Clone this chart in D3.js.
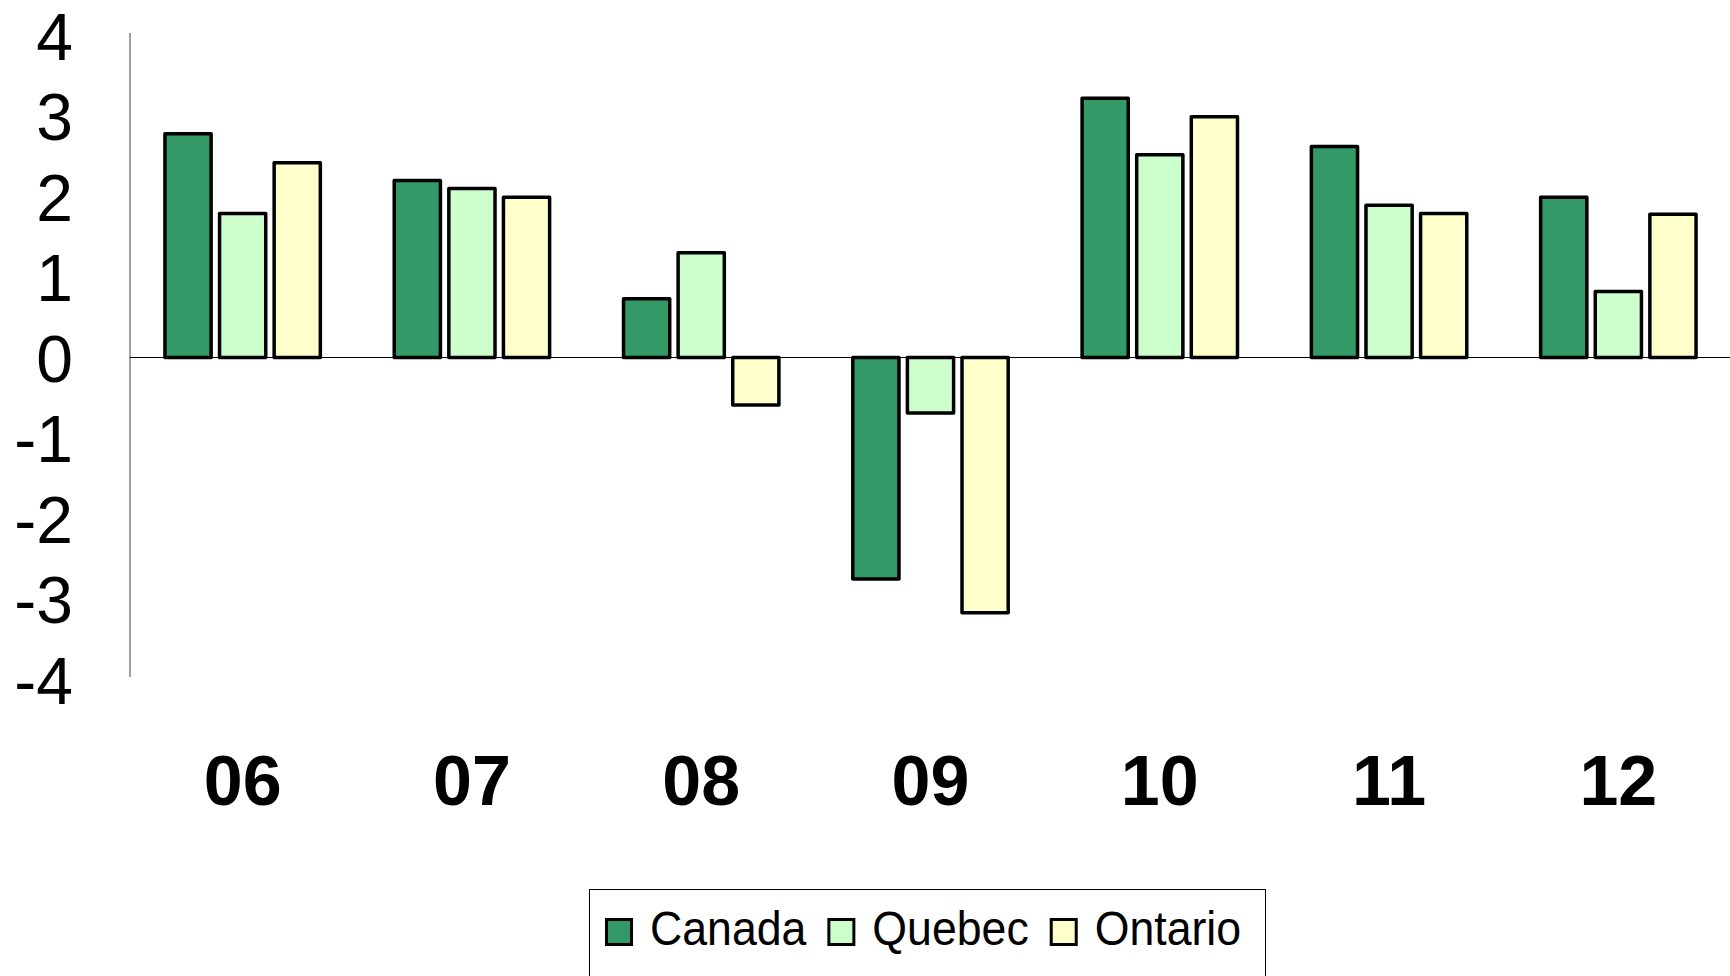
<!DOCTYPE html>
<html>
<head>
<meta charset="utf-8">
<script src="https://cdn.jsdelivr.net/npm/d3@7"></script>
<style>
  html, body { margin: 0; padding: 0; background: #fff; overflow: hidden; }
  svg { display: block; font-family: "Liberation Sans", Arial, sans-serif; }
</style>
</head>
<body>
<svg id="chart" width="1730" height="976"></svg>
<script>
// ---- data ----
const categories = ["06", "07", "08", "09", "10", "11", "12"];
const seriesNames = ["Canada", "Quebec", "Ontario"];
const canada  = [2.78, 2.20, 0.73, -2.75, 3.22, 2.62, 1.99];
const quebec  = [1.79, 2.10, 1.30, -0.69, 2.52, 1.89, 0.82];
const ontario = [2.42, 1.99, -0.59, -3.17, 2.99, 1.79, 1.78];
const yTicks = [4, 3, 2, 1, 0, -1, -2, -3, -4];
const colors = ["#339966", "#CCFFCC", "#FFFFCC"];

const seriesValues = [canada, quebec, ontario];
const rows = categories.map((c, i) => ({
  cat: c,
  vals: seriesNames.map((s, j) => ({ series: s, value: seriesValues[j][i], color: colors[j] }))
}));

// ---- layout ----
const svg = d3.select("#chart");
const plotLeft = 130, plotRight = 1735;

const x = d3.scaleBand().domain(categories).range([plotLeft - 2, plotRight - 2])
  .paddingInner(0.307).paddingOuter(0.1535);
const xSub = d3.scaleBand().domain(seriesNames).range([0, x.bandwidth()]).paddingInner(0.09);
const y = d3.scaleLinear().domain([-4, 4]).range([679.5, 35.5]);

// y axis
const yAxis = d3.axisLeft(y).tickValues(yTicks).tickSize(0).tickPadding(57)
  .tickFormat(d => String(d));
const gy = svg.append("g").attr("transform", `translate(${plotLeft},0)`).call(yAxis);
gy.select(".domain").remove();
gy.selectAll("text")
  .attr("font-size", 66)
  .attr("font-family", "'Liberation Sans', Arial, sans-serif")
  .attr("fill", "#000")
  .attr("dy", "0.358em");
svg.append("line")
  .attr("x1", plotLeft).attr("x2", plotLeft)
  .attr("y1", 33).attr("y2", 677)
  .attr("stroke", "#808080").attr("stroke-width", 1.5);

// zero line
svg.append("line")
  .attr("x1", plotLeft).attr("x2", 1730)
  .attr("y1", y(0)).attr("y2", y(0))
  .attr("stroke", "#000").attr("stroke-width", 1);

// bars
const sw = 3.5;
const groups = svg.append("g").selectAll("g").data(rows).join("g")
  .attr("transform", d => `translate(${x(d.cat)},0)`);
groups.selectAll("rect").data(d => d.vals).join("rect")
  .attr("x", d => xSub(d.series) + sw / 2)
  .attr("width", xSub.bandwidth() - sw)
  .attr("y", d => Math.min(y(d.value), y(0)))
  .attr("height", d => Math.abs(y(d.value) - y(0)))
  .attr("fill", d => d.color)
  .attr("stroke", "#000")
  .attr("stroke-width", sw)
  .attr("stroke-linejoin", "round");

// x labels
const xAxis = d3.axisBottom(x).tickSize(0).tickPadding(0);
const gx = svg.append("g").attr("transform", `translate(0,805)`).call(xAxis);
gx.select(".domain").remove();
gx.selectAll("text")
  .attr("font-size", 70)
  .attr("font-weight", "bold")
  .attr("font-family", "'Liberation Sans', Arial, sans-serif")
  .attr("fill", "#000")
  .attr("dy", 0)
  .attr("y", 0);

// legend
const legend = svg.append("g");
legend.append("rect")
  .attr("x", 589.5).attr("y", 889.5)
  .attr("width", 676).attr("height", 120)
  .attr("fill", "#fff").attr("stroke", "#000").attr("stroke-width", 1);
let lx = 605;
seriesNames.forEach((s, i) => {
  legend.append("rect")
    .attr("x", lx + 1.5).attr("y", 919.5)
    .attr("width", 25).attr("height", 25)
    .attr("fill", colors[i]).attr("stroke", "#000").attr("stroke-width", 3);
  const t = legend.append("text")
    .attr("x", lx + 45).attr("y", 945)
    .attr("font-size", 48)
    .attr("fill", "#000")
    .text(s);
  const w = t.node().getComputedTextLength() * 0.93;
  t.attr("textLength", w).attr("lengthAdjust", "spacingAndGlyphs");
  lx = lx + 45 + w + 21;
});
</script>
</body>
</html>
